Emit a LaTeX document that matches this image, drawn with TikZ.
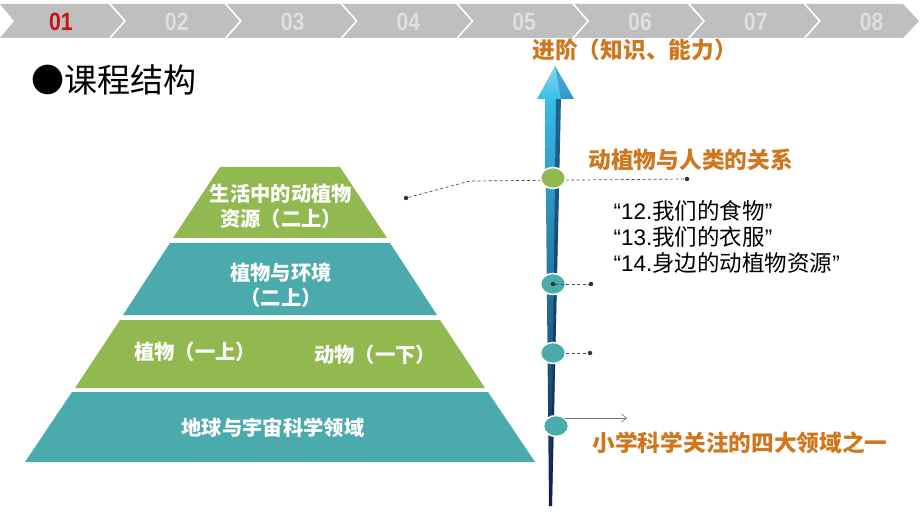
\documentclass[tikz,border=0pt]{standalone}
\usepackage{fontspec}
\setmainfont{Liberation Sans}
\newfontfamily\cjk{Noto Sans CJK SC}
\usetikzlibrary{arrows.meta,shapes.geometric}

\definecolor{barGray}{RGB}{191,191,191}
\definecolor{tabRed}{RGB}{200,20,20}
\definecolor{tabLight}{RGB}{222,222,222}
\definecolor{layerGreen}{RGB}{146,185,80}
\definecolor{layerTeal}{RGB}{75,170,172}
\definecolor{stepOrange}{RGB}{208,118,28}
\definecolor{arrowCyan}{RGB}{55,190,232}
\definecolor{arrowBlue}{RGB}{30,110,180}
\definecolor{arrowNavy}{RGB}{14,30,70}

\newcommand\lesson[2]{“#1.{\cjk #2}”}

\begin{document}
\begin{tikzpicture}[x=1pt, y=-1pt,
  tablabel/.style={font=\bfseries\fontsize{25}{28}\selectfont, xscale=0.85},
  layertext/.style={text=white, align=center, font=\cjk\bfseries\fontsize{20.3}{25}\selectfont},
  orangelabel/.style={text=stepOrange, anchor=west, font=\cjk\bfseries\fontsize{22.7}{26}\selectfont},
  knot/.style={ellipse, draw=white, line width=1.5pt, minimum width=25pt, minimum height=21pt, inner sep=0pt},
  dot/.style={circle, fill=black!80, inner sep=0pt, minimum size=4.5pt},
  dashline/.style={black!70, dashed, dash pattern=on 3pt off 2.5pt, line width=0.7pt}]
  \useasboundingbox (0,0) rectangle (920,518);
  \def\tabw{115.8} % width of one tab
  \def\tipd{16} % depth of a chevron tip

  % TAB BAR
  \fill [barGray] (0,4) -- (903,4) -- (919,21) -- (903,38) -- (0,38) -- (14,21) -- cycle;
  \foreach \i in {1,...,7}
    \draw [white, line width=1.6pt] ({109+\tabw*(\i-1)},3) -- ++(\tipd,18) -- ++(-\tipd,18);
  \node [tablabel, text=tabRed] (tab1) at (61,22) {01};
  \foreach \i in {2,...,8}
    \node [tablabel, text=tabLight] (tab\i) at ({61+\tabw*(\i-1)},22) {0\i};

  % TITLE
  \node [anchor=west, font=\cjk\fontsize{33}{36}\selectfont] (title) at (28,80) {●课程结构};

  % PYRAMID
  \fill [layerGreen] (220,167) -- (340,167) -- (387,238) -- (173,238) -- cycle;
  \fill [layerTeal]  (170,243) -- (390,243) -- (437,315) -- (123,315) -- cycle;
  \fill [layerGreen] (120,320) -- (440,320) -- (485,388) -- (75,388) -- cycle;
  \fill [layerTeal]  (72,392)  -- (488,392) -- (535,462) -- (25,462) -- cycle;

  \node [layertext] (life) at (281,206) {生活中的动植物\\资源（二上）};
  \node [layertext] (env)  at (281,285) {植物与环境\\（二上）};
  \node [layertext] (plant) at (195,352) {植物（一上）};
  \node [layertext] (animal) at (375,355) {动物（一下）};
  \node [layertext] (earth) at (273,428) {地球与宇宙科学领域};

  % ARROW
  \shade [top color=arrowCyan, middle color=arrowBlue, bottom color=arrowNavy]
    (545,96) -- (561,96) -- (552,506) -- (549,506) -- cycle;
  \fill [arrowNavy, opacity=0.55] (556,96) -- (561,96) -- (552,506) -- (551,506) -- cycle;
  \shade [top color=arrowCyan!60!white, bottom color=arrowCyan] (537,99) -- (555,66) -- (574,99) -- cycle;
  \fill [arrowBlue, opacity=0.45] (555,66) -- (574,99) -- (561,99) -- cycle;

  \node [orangelabel] (advance) at (529,50) {进阶（知识、能力）};

  % CONNECTORS AND KNOTS
  \node [dot] (d1) at (406,198) {};
  \coordinate (k1) at (470,181);
  \node [dot] (d2) at (687,179) {};
  \draw [dashline] (d1) -- (k1) -- (d2);
  \node [knot, fill=layerGreen] (c1) at (553,178) {};

  \node [knot, fill=layerTeal] (c2) at (553,284) {};
  \node [dot] (d3) at (c2) {};
  \node [dot] (d4) at (591,284) {};
  \draw [dashline] (d3) -- (d4);

  \node [knot, fill=layerTeal] (c3) at (553,353) {};
  \node [dot] (d5) at (590,353) {};
  \draw [dashline] (c3) -- (d5);

  \node [knot, fill=layerTeal] (c4) at (556,426) {};
  \coordinate (a4) at (627,418);
  \draw [black!55, line width=0.6pt, -{Straight Barb[length=5pt,width=8pt]}] (c4.40) -- (a4 |- c4.40);

  % TEXTS
  \node [orangelabel] (relation) at (585,160) {动植物与人类的关系};
  \node [anchor=north west, align=left, font=\fontsize{22.5}{26}\selectfont] (lessons) at (610,197)
    {\lesson{12}{我们的食物}\\\lesson{13}{我们的衣服}\\\lesson{14}{身边的动植物资源}};
  \node [orangelabel] (field) at (589,443) {小学科学关注的四大领域之一};

\end{tikzpicture}
\end{document}
